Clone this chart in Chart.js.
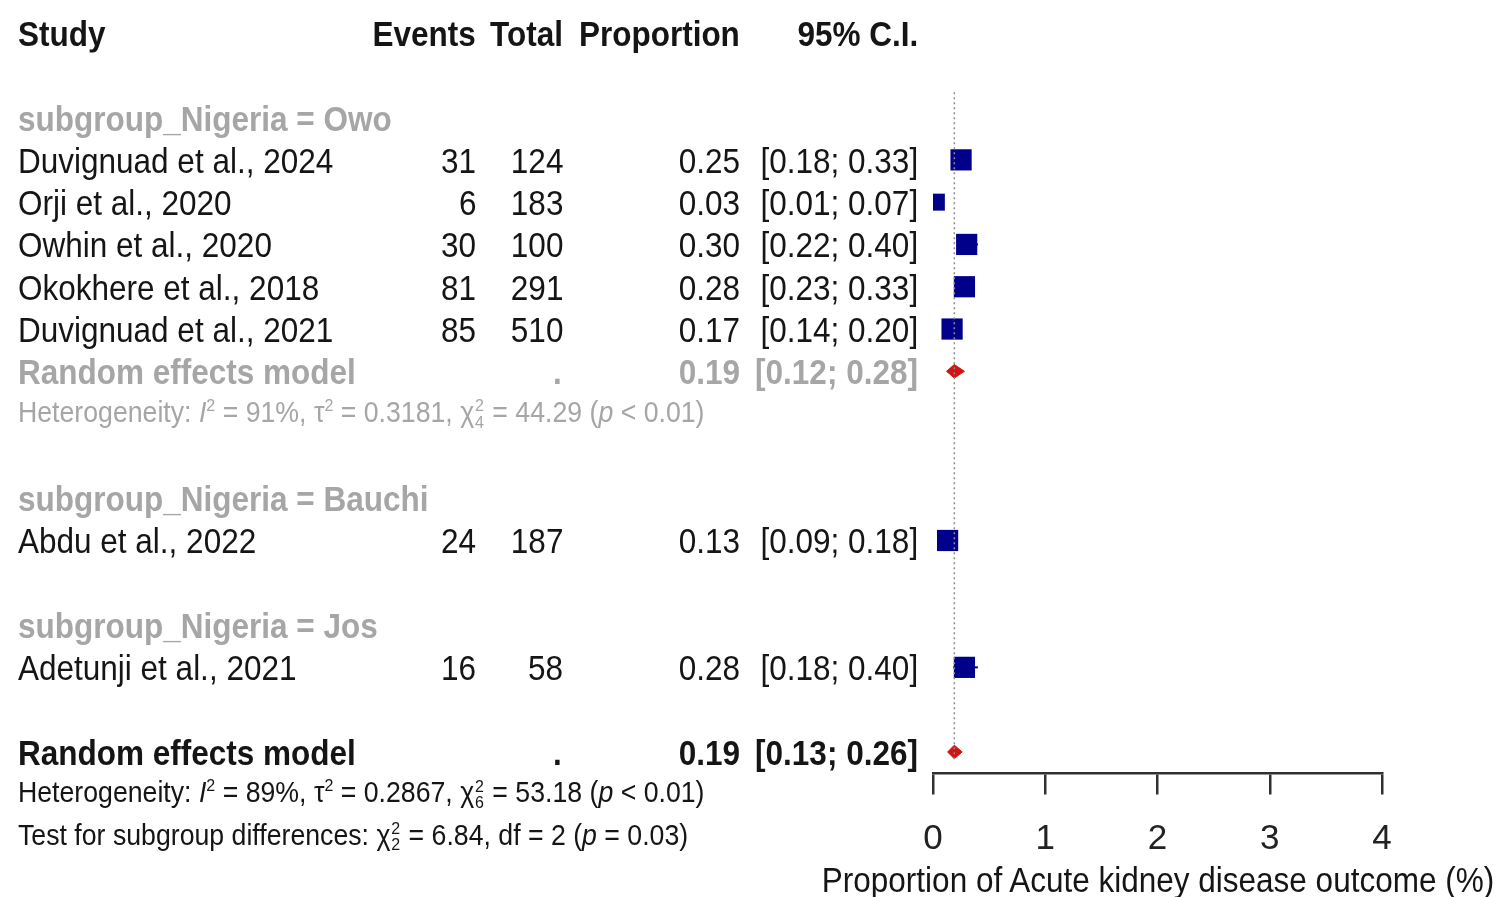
<!DOCTYPE html>
<html>
<head>
<meta charset="utf-8">
<script src="https://cdn.jsdelivr.net/npm/chart.js@4.4.1/dist/chart.umd.min.js"></script>
<style>
  html, body { margin: 0; padding: 0; background: #fff; }
  #wrap { position: relative; width: 1500px; height: 897px; overflow: hidden; }
  #plot { position: absolute; left: 0; top: 0; }
  .cell { position: absolute; white-space: nowrap; line-height: 1;
          transform-origin: 0 50%; transform: translateY(-50%) scaleX(0.9);
          font-family: "Liberation Sans", Arial, sans-serif;
          font-size: 35px; color: #151515; }
  .r { transform-origin: 100% 50%; }
  .c { transform-origin: 50% 50%; transform: translate(-50%, -50%) scaleX(0.9); }
  .head { font-weight: bold; }
  .grey { color: #a6a6a6; }
  .small { font-size: 29px; transform: translateY(-50%) scaleX(0.92); }
  .ss { display: inline-block; vertical-align: middle; font-size: 0.6em; line-height: 0.95; text-align: left; margin: 0 1px; }
  .ss span { display: block; }
  sup { font-size: 0.6em; }
</style>
</head>
<body>
<div id="wrap">
  <canvas id="plot" width="1500" height="897"></canvas>
</div>
<script>
// study level data
const studies = ['Duvignuad et al., 2024', 'Orji et al., 2020', 'Owhin et al., 2020', 'Okokhere et al., 2018',
                 'Duvignuad et al., 2021', 'Abdu et al., 2022', 'Adetunji et al., 2021'];
const studyGroup = ['Owo', 'Owo', 'Owo', 'Owo', 'Owo', 'Bauchi', 'Jos'];
const events = [31, 6, 30, 81, 85, 24, 16];
const totals = [124, 183, 100, 291, 510, 187, 58];
const proportion = [0.25, 0.03, 0.30, 0.28, 0.17, 0.13, 0.28];
const ciLower = [0.18, 0.01, 0.22, 0.23, 0.14, 0.09, 0.18];
const ciUpper = [0.33, 0.07, 0.40, 0.33, 0.20, 0.18, 0.40];

const subgroups = ['Owo', 'Bauchi', 'Jos'];
// random effects model for Owo subgroup, then overall
const modelEstimate = [0.19, 0.19];
const modelLower = [0.12, 0.13];
const modelUpper = [0.28, 0.26];
const xTicks = [0, 1, 2, 3, 4];
const xTitle = 'Proportion of Acute kidney disease outcome (%)';

const owoHet = 'Heterogeneity: <i>I</i><sup>2</sup> = 91%, τ<sup>2</sup> = 0.3181, χ<span class="ss"><span>2</span><span>4</span></span> = 44.29 (<i>p</i> &lt; 0.01)';
const allHet = 'Heterogeneity: <i>I</i><sup>2</sup> = 89%, τ<sup>2</sup> = 0.2867, χ<span class="ss"><span>2</span><span>6</span></span> = 53.18 (<i>p</i> &lt; 0.01)';
const subTest = 'Test for subgroup differences: χ<span class="ss"><span>2</span><span>2</span></span> = 6.84, df = 2 (<i>p</i> = 0.03)';

const BLUE = '#00008b';
const RED = '#d01414';

// walk the groups to get a row number for every line of the table
const studyRow = [];
const modelRow = [];
const texts = [];
let row = 2;
subgroups.forEach(function (g) {
    texts.push({ row: row, x: 18, html: 'subgroup_Nigeria = ' + g, cls: 'grey head' });
    row++;
    let n = 0;
    studies.forEach(function (s, i) {
        if (studyGroup[i] !== g) return;
        studyRow[i] = row;
        n++;
        row++;
    });
    if (n > 1) {
        modelRow.push(row);
        texts.push({ row: row, x: 18, html: 'Random effects model', cls: 'grey head' });
        texts.push({ row: row, right: 562, html: '.', cls: 'grey head' });
        texts.push({ row: row, right: 740, html: modelEstimate[0].toFixed(2), cls: 'grey head' });
        texts.push({ row: row, right: 918, html: '[' + modelLower[0].toFixed(2) + '; ' + modelUpper[0].toFixed(2) + ']', cls: 'grey head' });
        texts.push({ row: row + 1, x: 18, html: owoHet, cls: 'grey small' });
        row += 2;
    }
    row++;
});
modelRow.push(row);
texts.push({ row: row, x: 18, html: 'Random effects model', cls: 'head' });
texts.push({ row: row, right: 562, html: '.', cls: 'head' });
texts.push({ row: row, right: 740, html: modelEstimate[1].toFixed(2), cls: 'head' });
texts.push({ row: row, right: 918, html: '[' + modelLower[1].toFixed(2) + '; ' + modelUpper[1].toFixed(2) + ']', cls: 'head' });
texts.push({ row: row + 1, x: 18, html: allHet, cls: 'small' });
texts.push({ row: row + 2, x: 18, html: subTest, cls: 'small' });

studies.forEach(function (s, i) {
    const r = studyRow[i];
    texts.push({ row: r, x: 18, html: s });
    texts.push({ row: r, right: 476, html: String(events[i]) });
    texts.push({ row: r, right: 563, html: String(totals[i]) });
    texts.push({ row: r, right: 740, html: proportion[i].toFixed(2) });
    texts.push({ row: r, right: 918, html: '[' + ciLower[i].toFixed(2) + '; ' + ciUpper[i].toFixed(2) + ']' });
});
texts.push({ row: 0, x: 18, html: 'Study', cls: 'head' });
texts.push({ row: 0, right: 476, html: 'Events', cls: 'head' });
texts.push({ row: 0, right: 563, html: 'Total', cls: 'head' });
texts.push({ row: 0, right: 740, html: 'Proportion', cls: 'head' });
texts.push({ row: 0, right: 918, html: '95% C.I.', cls: 'head' });

const datasets = [];

// dotted line at the overall estimate
datasets.push({
    type: 'line',
    data: [{ x: modelEstimate[1], y: 1.4 }, { x: modelEstimate[1], y: 17.2 }],
    borderColor: '#8c8c8c',
    borderWidth: 1.5,
    borderDash: [2, 3],
    pointRadius: 0
});

// confidence intervals
studies.forEach(function (s, i) {
    datasets.push({
        type: 'line',
        data: [{ x: ciLower[i], y: studyRow[i] }, { x: ciUpper[i], y: studyRow[i] }],
        borderColor: BLUE,
        borderWidth: 2,
        pointRadius: 0
    });
});

// study squares
datasets.push({
    type: 'scatter',
    data: studies.map(function (s, i) { return { x: proportion[i], y: studyRow[i] }; }),
    pointStyle: 'rect',
    pointRadius: function (ctx) { return Math.min(15, 10 + events[ctx.dataIndex] / 3); },
    backgroundColor: BLUE,
    borderColor: BLUE,
    borderWidth: 0
});

// white CI inside squares that cover it
const squareHalf = 0.085;
studies.forEach(function (s, i) {
    if (ciLower[i] < proportion[i] - squareHalf || ciUpper[i] > proportion[i] + squareHalf) return;
    datasets.push({
        type: 'line',
        data: [{ x: ciLower[i], y: studyRow[i] }, { x: ciUpper[i], y: studyRow[i] }],
        borderColor: '#dcdcff',
        borderWidth: 2,
        pointRadius: 0
    });
});

// diamonds for the random effects models
const diamondHalf = 0.16;
modelRow.forEach(function (r, k) {
    datasets.push({
        type: 'line',
        data: [
            { x: modelLower[k], y: r },
            { x: modelEstimate[k], y: r - diamondHalf },
            { x: modelUpper[k], y: r },
            { x: modelEstimate[k], y: r + diamondHalf },
            { x: modelLower[k], y: r }
        ],
        borderColor: RED,
        backgroundColor: RED,
        borderWidth: 1,
        pointRadius: 0,
        fill: 'shape'
    });
});

const chart = new Chart(document.getElementById('plot'), {
    type: 'scatter',
    data: { datasets: datasets },
    options: {
        responsive: false,
        animation: false,
        events: [],
        layout: { autoPadding: false, padding: { left: 933, right: 118, top: 0, bottom: 0 } },
        scales: {
            y: {
                type: 'linear',
                display: false,
                reverse: true,
                min: -0.78,
                max: 20.43
            },
            x: {
                type: 'linear',
                min: xTicks[0],
                max: xTicks[xTicks.length - 1],
                position: { y: 17.5 },
                afterBuildTicks: function (axis) {
                    axis.ticks = xTicks.map(function (v) { return { value: v }; });
                },
                border: { display: true, color: '#303030', width: 2.5 },
                grid: { drawOnChartArea: false, drawTicks: true, tickLength: 20, color: '#303030', lineWidth: 2.5 },
                ticks: {
                    color: '#222',
                    padding: 25,
                    font: { family: '"Liberation Sans", Arial, sans-serif', size: 35 }
                }
            }
        },
        plugins: {
            legend: { display: false },
            tooltip: { enabled: false }
        }
    }
});

// place the table text on the same rows as the plot
const wrap = document.getElementById('wrap');
texts.forEach(function (t) {
    const d = document.createElement('div');
    d.className = 'cell' + (t.cls ? ' ' + t.cls : '');
    d.innerHTML = t.html;
    d.style.top = chart.scales.y.getPixelForValue(t.row) + 'px';
    if (t.right !== undefined) {
        d.className += ' r';
        d.style.right = (1500 - t.right) + 'px';
    } else {
        d.style.left = t.x + 'px';
    }
    wrap.appendChild(d);
});

// axis title under the tick labels, centred on the axis
const xs = chart.scales.x;
const title = document.createElement('div');
title.className = 'cell c';
title.textContent = xTitle;
title.style.left = (xs.left + xs.right) / 2 + 'px';
title.style.top = chart.scales.y.getPixelForValue(20) + 'px';
wrap.appendChild(title);
</script>
</body>
</html>
